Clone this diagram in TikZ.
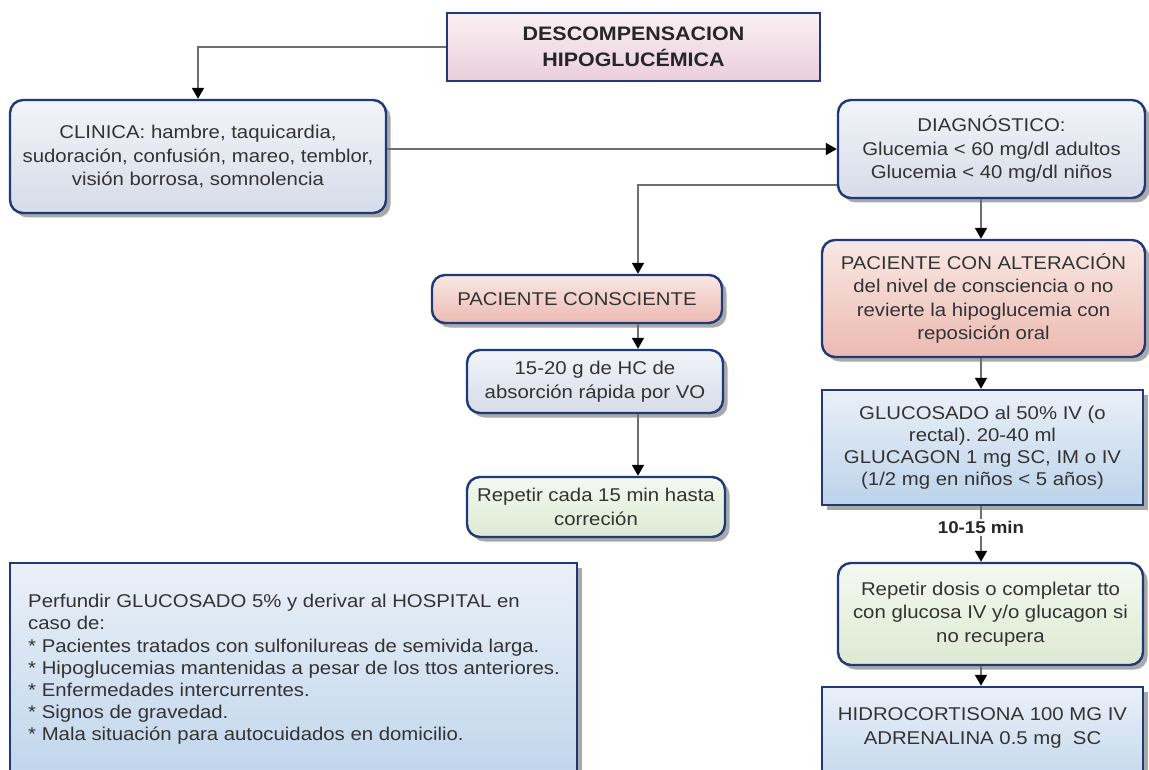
\documentclass[tikz,border=0pt]{standalone}
\usepackage{fontspec}
\setmainfont{Liberation Sans}[FakeStretch=1.1]
\usetikzlibrary{arrows.meta,shadows,calc}
\frenchspacing

\definecolor{navy}{HTML}{1F3A78}
\definecolor{txtgray}{HTML}{333333}
\definecolor{conn}{HTML}{6E6E6E}
\definecolor{shadowgray}{HTML}{A9A9A9}
% fills (top / bottom of each vertical gradient)
\definecolor{greyT}{HTML}{F2F4F9}\definecolor{greyB}{HTML}{D6DCE8}
\definecolor{roseT}{HTML}{F9E8E4}\definecolor{roseB}{HTML}{ECBAB2}
\definecolor{lilaT}{HTML}{FAF0F4}\definecolor{lilaB}{HTML}{EACFDA}
\definecolor{mintT}{HTML}{F5F9F1}\definecolor{mintB}{HTML}{DCEAD2}
\definecolor{skyT}{HTML}{EAF0F8}\definecolor{skyB}{HTML}{BCD3EA}

\tikzset{
  basebox/.style={draw=navy, line width=2.4pt, text=txtgray, align=center,
    inner sep=0pt, font=\fontsize{18.5}{23.5}\selectfont, shading=axis},
  shade/.style={drop shadow={shadow xshift=4.5pt, shadow yshift=-4.5pt,
    fill=shadowgray, opacity=1}},
  greybox/.style={basebox, shade, rounded corners=13pt, top color=greyT, bottom color=greyB},
  rosebox/.style={basebox, shade, rounded corners=13pt, top color=roseT, bottom color=roseB},
  mintbox/.style={basebox, shade, rounded corners=13pt, top color=mintT, bottom color=mintB},
  skybox/.style={basebox, shade, top color=skyT, bottom color=skyB},
  titlebox/.style={basebox, top color=lilaT, bottom color=lilaB,
    font=\bfseries\fontsize{19.5}{26}\selectfont, text=black!85},
  plaintext/.style={text=txtgray, inner sep=0pt, font=\fontsize{18.5}{23.5}\selectfont},
  arr/.style={draw=conn, line width=1.8pt,
    -{Triangle[length=11pt, width=12pt, color=black]}},
}

\begin{document}
\begin{tikzpicture}[x=1pt, y=-1pt]
  \clip (0,0) rectangle (1149,770);
  \fill[white] (0,0) rectangle (1149,770);

  % title
  \node[titlebox, minimum width=373pt, minimum height=68pt] (title) at (633.5,47)
    {DESCOMPENSACION\\HIPOGLUCÉMICA};

  % left column
  \node[greybox, minimum width=376pt, minimum height=113pt] (clin) at (198,156.5)
    {CLINICA: hambre, taquicardia,\\sudoración, confusión, mareo, temblor,\\visión borrosa, somnolencia};

  % right column
  \node[greybox, minimum width=307pt, minimum height=98pt] (diag) at (991.5,149)
    {DIAGNÓSTICO:\\Glucemia < 60 mg/dl adultos\\Glucemia < 40 mg/dl niños};
  \node[rosebox, minimum width=323pt, minimum height=117pt] (alt) at (983.5,298.5)
    {PACIENTE CON ALTERACIÓN\\del nivel de consciencia o no\\revierte la hipoglucemia con\\reposición oral};
  \node[skybox, minimum width=321pt, minimum height=115pt, font=\fontsize{18.5}{22}\selectfont] (gluc) at (982.5,447.5)
    {GLUCOSADO al 50\% IV (o\\rectal). 20-40 ml\\GLUCAGON 1 mg SC, IM o IV\\(1/2 mg en niños < 5 años)};
  \node[mintbox, minimum width=305pt, minimum height=102pt] (dosis) at (990.5,614)
    {Repetir dosis o completar tto\\con glucosa IV y/o glucagon si\\no recupera};
  \node[skybox, minimum width=321pt, minimum height=115pt] (hidro) at (982.5,744.5) {};
  \node[plaintext, align=center] (hidrotxt) at (982.5,728)
    {HIDROCORTISONA 100 MG IV\\ADRENALINA 0.5 mg~~SC};

  % middle column
  \node[rosebox, minimum width=290pt, minimum height=48pt] (consc) at (577,299)
    {PACIENTE CONSCIENTE};
  \node[greybox, minimum width=256pt, minimum height=63pt] (hc) at (595,381.5)
    {15-20 g de HC de\\absorción rápida por VO};
  \node[mintbox, minimum width=258pt, minimum height=60pt] (rep) at (596,507)
    {Repetir cada 15 min hasta\\correción};

  % referral box
  \node[skybox, minimum width=567pt, minimum height=237pt] (hosp) at (293.5,681.5) {};
  \node[plaintext, align=left, anchor=north west, font=\fontsize{18.5}{22.2}\selectfont]
    (hosptxt) at (28,594)
    {Perfundir GLUCOSADO 5\% y derivar al HOSPITAL en\\caso de:\\
     * Pacientes tratados con sulfonilureas de semivida larga.\\
     * Hipoglucemias mantenidas a pesar de los ttos anteriores.\\
     * Enfermedades intercurrentes.\\
     * Signos de gravedad.\\
     * Mala situación para autocuidados en domicilio.};

  % connectors
  \coordinate (midcol) at (638,185);
  \coordinate (rcol) at (981,0);

  \draw[arr] (title.west) -| (clin.north);
  \draw[arr] (clin.east |- diag.west) -- (diag.west);
  \draw[arr] (diag.west |- midcol) -- (midcol) -- (midcol |- consc.north);
  \draw[arr] (midcol |- consc.south) -- (midcol |- hc.north);
  \draw[arr] (midcol |- hc.south) -- (midcol |- rep.north);
  \draw[arr] (rcol |- diag.south) -- (rcol |- alt.north);
  \draw[arr] (rcol |- alt.south) -- (rcol |- gluc.north);
  \draw[arr] (rcol |- gluc.south) -- node[pos=0.38, fill=white, inner sep=2pt,
    font=\bfseries\fontsize{17}{20}\selectfont, text=black!85] (delay) {10-15 min}
    (rcol |- dosis.north);
  \draw[arr] (rcol |- dosis.south) -- (rcol |- hidro.north);
\end{tikzpicture}
\end{document}
